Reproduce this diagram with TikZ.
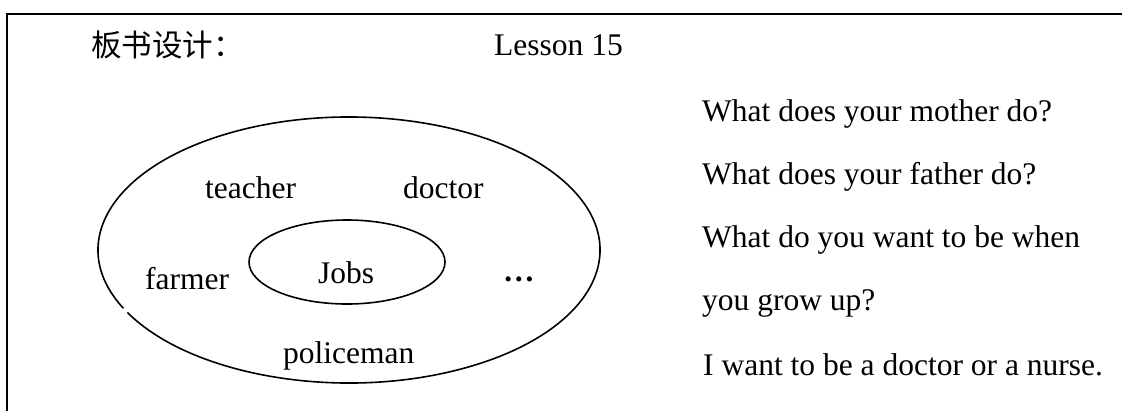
\documentclass[tikz,border=0pt]{standalone}
\usepackage{fontspec}
\setmainfont{Liberation Serif}
\newfontfamily\cjk{Noto Sans CJK SC}
\begin{document}
\begin{tikzpicture}[x=1pt,y=-1pt,
  txt/.style={anchor=base west, inner sep=0pt, font=\fontsize{31.5}{38}\selectfont},
  cjktxt/.style={anchor=base west, inner sep=0pt, font=\cjk\fontsize{30.5}{36}\selectfont},
  frameline/.style={line width=2pt, line cap=rect},
  ring/.style={line width=1.6pt}]
\useasboundingbox (0,0) rectangle (1122,410);
% frame
\draw[frameline] (7,410) -- (7,14) -- (1122,14);
% title
\node[cjktxt] (title) at (91,56) {板书设计：};
\node[txt] (lesson) at (494,55) {Lesson 15};
% outer ellipse with small gap
\draw[ring] (349,250) ++(208:251pt and 133pt)
  arc[start angle=208, end angle=566, x radius=251pt, y radius=133pt];
% inner ellipse
\draw[ring] (347,262) ellipse[x radius=98pt, y radius=42pt];
% words
\node[txt] (teacher) at (205,198) {teacher};
\node[txt] (doctor) at (403,198) {doctor};
\node[txt] (farmer) at (145,289) {farmer};
\node[txt] (jobs) at (318,283) {Jobs};
\node[txt] (dots) at (503,281) {\textbf{…}};
\node[txt] (police) at (283,363) {policeman};
% right column
\node[txt] (q1) at (702,121) {What does your mother do?};
\node[txt] (q2) at (702,184) {What does your father do?};
\node[txt] (q3) at (702,247) {What do you want to be when};
\node[txt] (q4) at (702,310) {you grow up?};
\node[txt] (q5) at (703,375) {I want to be a doctor or a nurse.};
\end{tikzpicture}
\end{document}
